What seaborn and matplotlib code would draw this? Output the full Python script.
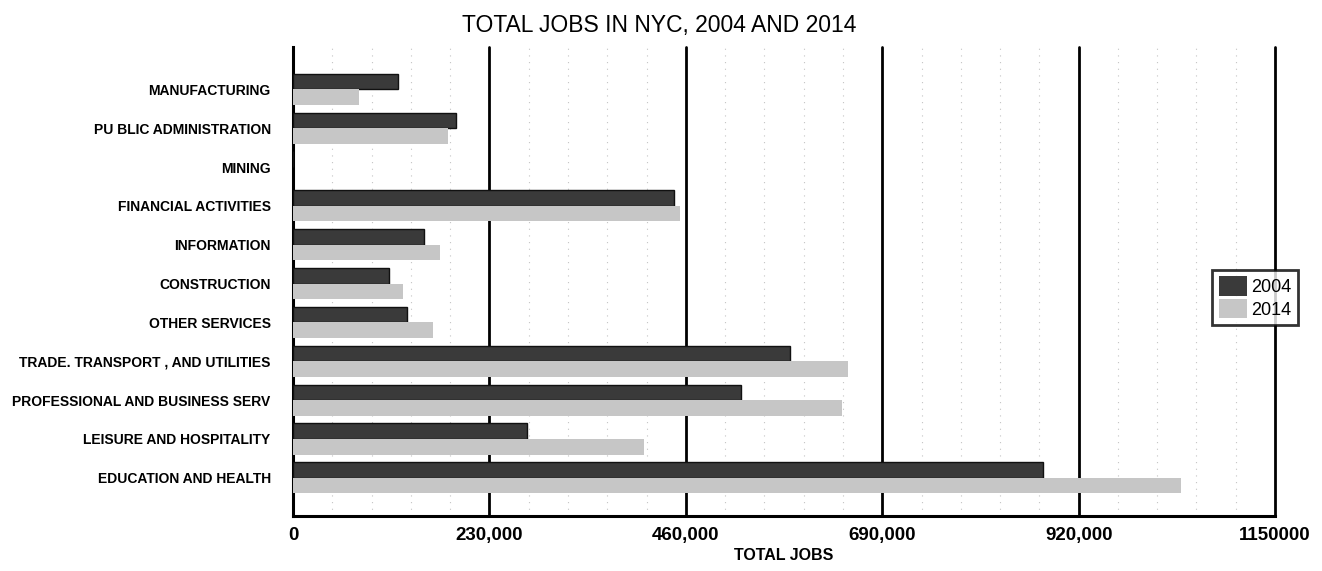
import matplotlib
matplotlib.use("Agg")
import matplotlib.pyplot as plt
from matplotlib.ticker import MultipleLocator
import seaborn as sns
import pandas as pd

# Employment by sector in New York City
sectors = [
    "MANUFACTURING",
    "PU BLIC ADMINISTRATION",
    "MINING",
    "FINANCIAL ACTIVITIES",
    "INFORMATION",
    "CONSTRUCTION",
    "OTHER SERVICES",
    "TRADE. TRANSPORT , AND UTILITIES",
    "PROFESSIONAL AND BUSINESS SERV",
    "LEISURE AND HOSPITALITY",
    "EDUCATION AND HEALTH",
]
jobs_2004 = [123000, 191000, 0, 446000, 153000, 112000, 134000, 582000, 525000, 274000, 878000]
jobs_2014 = [77000, 182000, 0, 453000, 172000, 129000, 164000, 650000, 643000, 411000, 1040000]
years = ["2004", "2014"]
x_ticks = [0, 230000, 460000, 690000, 920000, 1150000]
x_tick_labels = ["0", "230,000", "460,000", "690,000", "920,000", "1150000"]

df = pd.DataFrame({
    "sector": sectors * 2,
    "jobs": jobs_2004 + jobs_2014,
    "year": [years[0]] * len(sectors) + [years[1]] * len(sectors),
})

sns.set_style("white")
plt.rcParams["font.family"] = ["Liberation Sans", "DejaVu Sans"]
plt.rcParams["text.color"] = "black"
plt.rcParams["axes.labelcolor"] = "black"
plt.rcParams["xtick.color"] = "black"
plt.rcParams["ytick.color"] = "black"

fig = plt.figure(figsize=(13.22, 5.71), dpi=100)
ax = fig.add_axes([0.2216, 0.0965, 0.7429, 0.8212])

dark = "#3a3a3a"
light = "#c6c6c6"
sns.barplot(
    data=df, y="sector", x="jobs", hue="year", hue_order=years,
    order=sectors, orient="h", palette=[dark, light], width=0.8,
    saturation=1, linewidth=0, ax=ax, zorder=3,
)
# dark outline on the 2004 bars
for patch in ax.containers[0]:
    patch.set_edgecolor("#111111")
    patch.set_linewidth(1.0)

ax.set_xlim(0, 1150000)
ax.set_ylim(10.98, -1.09)

# vertical grid: solid at major steps, faint dotted at minor steps
ax.set_xticks(x_ticks)
ax.set_xticklabels(x_tick_labels)
ax.xaxis.set_minor_locator(MultipleLocator(46000))
ax.grid(axis="x", which="major", color="black", linewidth=2.0, zorder=1)
ax.grid(axis="x", which="minor", color="#c4c4c4", linewidth=0.8,
        linestyle=(0, (1, 5)), zorder=1)
ax.grid(axis="y", visible=False)
for gl in ax.get_xgridlines():
    gl.set_clip_on(False)

for side in ["top", "right"]:
    ax.spines[side].set_visible(False)
for side in ["left", "bottom"]:
    ax.spines[side].set_color("black")
    ax.spines[side].set_linewidth(2.2)

ax.tick_params(axis="x", which="major", direction="out", length=6, width=2,
               color="black", pad=2, labelsize=13.5)
ax.tick_params(axis="x", which="minor", direction="out", length=5, width=2,
               color="black")
ax.tick_params(axis="y", length=0, pad=16, labelsize=10)
for lbl in ax.get_xticklabels():
    lbl.set_fontweight("bold")
for lbl in ax.get_yticklabels():
    lbl.set_fontweight("bold")

ax.set_ylabel("")
ax.set_xlabel("TOTAL JOBS", fontsize=11.5, fontweight="bold", labelpad=3)
ax.set_title("TOTAL JOBS IN NYC, 2004 AND 2014", fontsize=16.5, pad=11,
             x=0.373, color="black")

leg = ax.legend(
    loc="center left", bbox_to_anchor=(0.936, 0.466), frameon=True,
    fancybox=False, edgecolor="black", fontsize=13, handlelength=1.6,
    handleheight=1.3, handletextpad=0.2, borderpad=0.35, labelspacing=0.15,
    borderaxespad=0,
)
leg.get_frame().set_linewidth(2.0)
leg.set_zorder(5)

fig.savefig("out.png", dpi=100, facecolor="white")
